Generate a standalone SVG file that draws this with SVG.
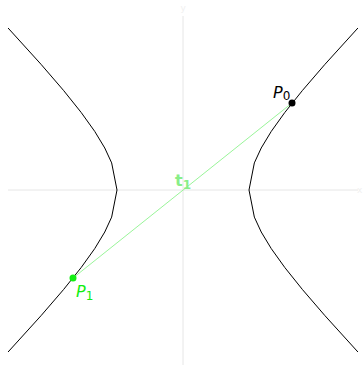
<svg xmlns="http://www.w3.org/2000/svg" width="363" height="366" viewBox="0 0 363 366">
<style>
.axis{stroke:#e6e6e6;stroke-width:1;fill:none}
.curve{stroke:#000;stroke-width:1;fill:none;stroke-linejoin:round}
.lbl{font-family:"DejaVu Sans",sans-serif;font-size:16px}
.sub{font-size:12px;font-style:normal}
.axlbl{font-family:"DejaVu Sans",sans-serif;font-size:9px;fill:#f0f0f0}
</style>
<rect width="363" height="366" fill="#fff"/>
<g id="axes">
<line class="axis" x1="8" y1="190" x2="358" y2="190"/>
<line class="axis" x1="183" y1="16" x2="183" y2="365"/>
<text class="axlbl" x="180.5" y="11">y</text>
<text class="axlbl" x="357" y="193">x</text>
</g>
<g id="hyperbola">
<polyline class="curve" points="357.93,28 324.96,64.32 302.5,90.38 284.84,112.44 271.27,131.38 261.24,147.98 254.35,162.89 249,190 254.35,217.11 261.24,232.02 271.27,248.62 284.84,267.56 302.5,289.62 324.96,315.68 357.93,352"/>
<polyline class="curve" points="8.07,28 41.04,64.32 63.5,90.38 81.16,112.44 94.73,131.38 104.76,147.98 111.65,162.89 117,190 111.65,217.11 104.76,232.02 94.73,248.62 81.16,267.56 63.5,289.62 41.04,315.68 8.07,352"/>
</g>
<g id="connectors">
<line x1="292" y1="103" x2="73" y2="278" stroke="#99f599" stroke-width="1"/>
</g>
<g id="t1">
<text class="lbl" x="175" y="186" fill="#88ee88" font-weight="bold">t<tspan class="sub" dy="3">1</tspan></text>
</g>
<g id="P0">
<circle cx="292" cy="103" r="3.5" fill="#000"/>
<text class="lbl" x="273" y="98" fill="#000" font-style="italic">P<tspan class="sub" dy="2">0</tspan></text>
</g>
<g id="P1">
<circle cx="73" cy="278" r="3.5" fill="#11ee11"/>
<text class="lbl" x="76" y="297" fill="#11ee11" font-style="italic">P<tspan class="sub" dy="3">1</tspan></text>
</g>
</svg>
